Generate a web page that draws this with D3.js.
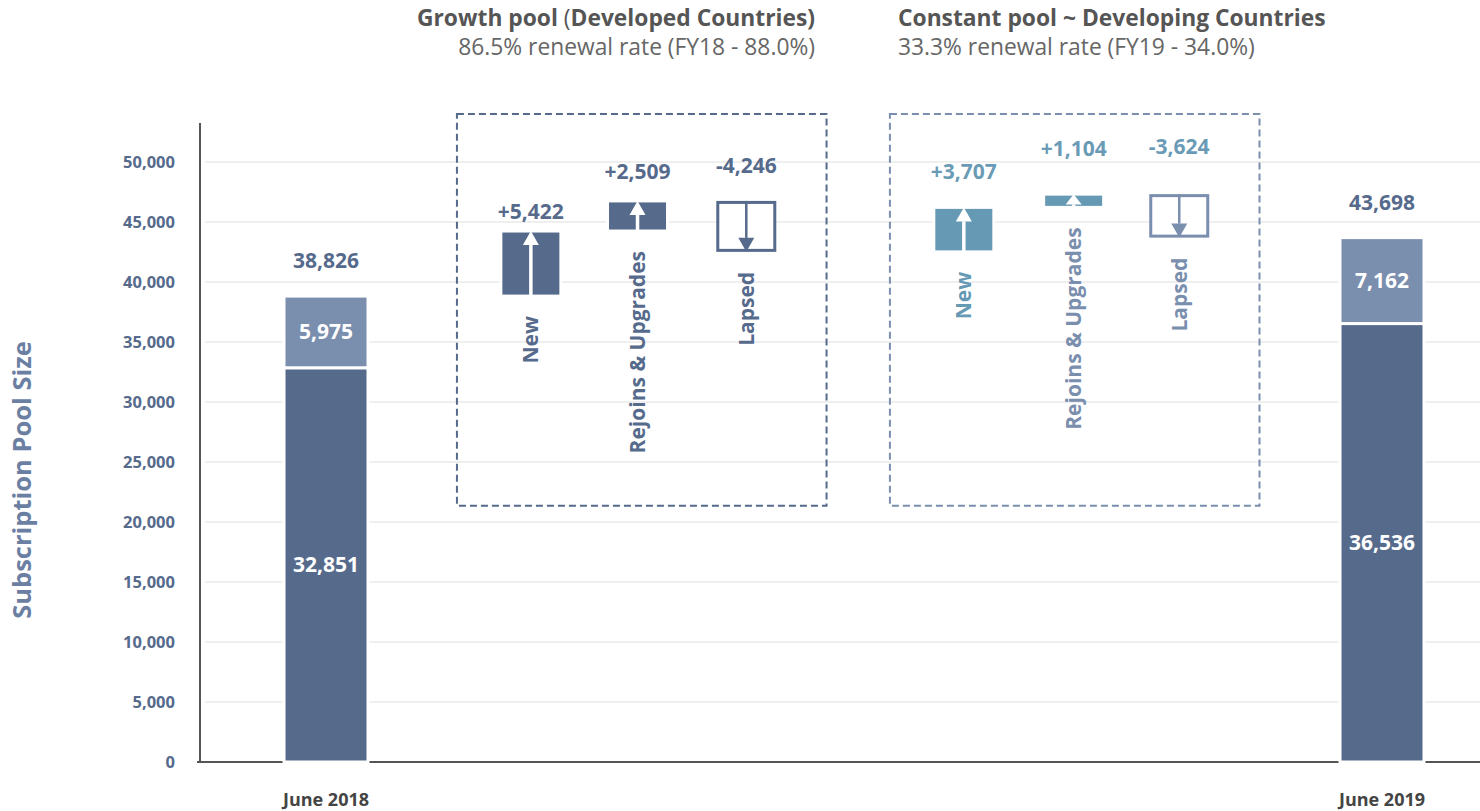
<!DOCTYPE html>
<html>
<head>
<meta charset="utf-8">
<script src="https://cdn.jsdelivr.net/npm/d3@7"></script>
<style>
  html, body { margin: 0; padding: 0; background: #ffffff; }
  svg { display: block; font-family: "Open Sans", "Noto Sans", sans-serif; }
</style>
</head>
<body>
<svg id="chart" width="1480" height="811"></svg>
<script>
// ---- data ----
const periods = ["June 2018", "June 2019"];
const baseSegment = [32851, 36536];   // lower stack of each period bar
const upperSegment = [5975, 7162];    // upper stack of each period bar

const flowCategories = ["New", "Rejoins & Upgrades", "Lapsed"];
const growthFlows = [5422, 2509, -4246];
const constantFlows = [3707, 1104, -3624];

const poolTitles = [
  [["Growth pool ", 700], ["(", 400], ["Developed Countries)", 700]],
  [["Constant pool ~ Developing Countries", 700]]
];
const poolSubtitles = [
  "86.5% renewal rate (FY18 - 88.0%)",
  "33.3% renewal rate (FY19 - 34.0%)"
];
const yTickValues = [0, 5000, 10000, 15000, 20000, 25000, 30000, 35000, 40000, 45000, 50000];
const yTitle = "Subscription Pool Size";

// ---- colours ----
const DARK = "#566a8c";
const LIGHT = "#7a8eae";
const TEAL = "#6699b4";
const poolStyle = [
  { up: DARK, down: DARK, value: DARK, label: [DARK, DARK, DARK], box: DARK },
  { up: TEAL, down: LIGHT, value: "#6a9bb6", label: [TEAL, LIGHT, LIGHT], box: LIGHT }
];

const svg = d3.select("#chart");

// ---- scales ----
const y = d3.scaleLinear().domain([0, 53250]).range([762, 123]);
// slot positions along the x axis: period bars at the ends, flows grouped per pool
const slotOf = { period: [0, 10], pool: [[1.94, 2.95, 3.98], [6.04, 7.08, 8.08]] };
const x = d3.scaleLinear().domain([0, 10]).range([326, 1382]);

const fmt = d3.format(",");
const signed = v => (v >= 0 ? "+" : "-") + fmt(Math.abs(v));

// ---- grid ----
svg.append("g")
  .selectAll("line")
  .data(yTickValues.filter(d => d > 0))
  .join("line")
  .attr("x1", 205).attr("x2", 1480)
  .attr("y1", d => y(d)).attr("y2", d => y(d))
  .attr("stroke", "#efefef").attr("stroke-width", 2);

// ---- y axis ----
const yAxis = d3.axisLeft(y).tickValues(yTickValues).tickFormat(fmt).tickSize(0).tickPadding(25);
const gy = svg.append("g").attr("transform", "translate(200,0)").call(yAxis);
gy.select(".domain").remove();
gy.selectAll("text")
  .attr("fill", DARK).attr("font-size", 16.5).attr("font-weight", 700)
  .attr("font-family", "Open Sans");

svg.append("line")
  .attr("x1", 200).attr("x2", 200).attr("y1", y(53250)).attr("y2", y(0))
  .attr("stroke", "#555").attr("stroke-width", 2);
svg.append("line")
  .attr("x1", 197).attr("x2", 1480).attr("y1", y(0)).attr("y2", y(0))
  .attr("stroke", "#555").attr("stroke-width", 2);

svg.append("text")
  .attr("transform", `translate(31,${480}) rotate(-90)`)
  .attr("text-anchor", "middle")
  .attr("fill", "#6b7fa3").attr("font-size", 25.5).attr("font-weight", 700)
  .text(yTitle);

// ---- period bars ----
const barW = 84;
periods.forEach((p, i) => {
  const cx = x(slotOf.period[i]);
  const base = baseSegment[i], upper = upperSegment[i], total = base + upper;
  const g = svg.append("g");
  g.append("rect")
    .attr("x", cx - barW / 2).attr("width", barW)
    .attr("y", y(base)).attr("height", y(0) - y(base))
    .attr("fill", DARK).attr("stroke", "#fff").attr("stroke-width", 3);
  g.append("rect")
    .attr("x", cx - barW / 2).attr("width", barW)
    .attr("y", y(total)).attr("height", y(base) - y(total))
    .attr("fill", LIGHT).attr("stroke", "#fff").attr("stroke-width", 3);
  g.append("text")
    .attr("x", cx).attr("y", (y(base) + y(0)) / 2).attr("dy", "0.35em")
    .attr("text-anchor", "middle").attr("fill", "#fff")
    .attr("font-size", 21).attr("font-weight", 700).text(fmt(base));
  g.append("text")
    .attr("x", cx).attr("y", (y(total) + y(base)) / 2).attr("dy", "0.35em")
    .attr("text-anchor", "middle").attr("fill", "#fff")
    .attr("font-size", 21).attr("font-weight", 700).text(fmt(upper));
  g.append("text")
    .attr("x", cx).attr("y", y(total) - 35).attr("dy", "0.35em")
    .attr("text-anchor", "middle").attr("fill", DARK)
    .attr("font-size", 21).attr("font-weight", 700).text(fmt(total));
  g.append("text")
    .attr("x", cx).attr("y", 806)
    .attr("text-anchor", "middle").attr("fill", "#444")
    .attr("font-size", 18).attr("font-weight", 700).text(p);
});

// ---- pool waterfalls ----
const flowW = 60;
const labelLift = [[12, 22, 28], [28, 38, 40]];
let running = baseSegment[0] + upperSegment[0];

[growthFlows, constantFlows].forEach((flows, pi) => {
  const st = poolStyle[pi];
  const slots = slotOf.pool[pi];
  const g = svg.append("g");

  // dashed frame around the pool
  const bx0 = x(slots[0] - 0.7), bx1 = x(slots[2] + 0.76);
  g.append("rect")
    .attr("x", bx0).attr("y", y(54000))
    .attr("width", bx1 - bx0).attr("height", y(21350) - y(54000))
    .attr("fill", "none").attr("stroke", st.box)
    .attr("stroke-width", 2).attr("stroke-dasharray", "7,4");

  flows.forEach((v, k) => {
    const start = running, end = running + v;
    running = end;
    const cx = x(slots[k]);
    const top = y(Math.max(start, end)), bottom = y(Math.min(start, end));
    const h = bottom - top;
    const headH = Math.min(14, h - 3), headW = 8;

    if (v >= 0) {
      g.append("rect")
        .attr("x", cx - flowW / 2).attr("width", flowW)
        .attr("y", top).attr("height", h)
        .attr("fill", st.up).attr("stroke", "#fff").attr("stroke-width", 3);
      g.append("line")
        .attr("x1", cx).attr("x2", cx).attr("y1", bottom).attr("y2", top + headH)
        .attr("stroke", "#fff").attr("stroke-width", 3.5);
      g.append("path")
        .attr("d", `M${cx - headW},${top + headH}L${cx + headW},${top + headH}L${cx},${top}Z`)
        .attr("fill", "#fff");
    } else {
      g.append("rect")
        .attr("x", cx - flowW / 2 + 1.5).attr("width", flowW - 3)
        .attr("y", top + 1.5).attr("height", h - 3)
        .attr("fill", "#fff").attr("stroke", st.down).attr("stroke-width", 3);
      g.append("line")
        .attr("x1", cx).attr("x2", cx).attr("y1", top).attr("y2", bottom - headH)
        .attr("stroke", st.down).attr("stroke-width", 2.5);
      g.append("path")
        .attr("d", `M${cx - headW},${bottom - headH}L${cx + headW},${bottom - headH}L${cx},${bottom}Z`)
        .attr("fill", st.down);
    }

    g.append("text")
      .attr("x", cx).attr("y", top - labelLift[pi][k])
      .attr("text-anchor", "middle").attr("fill", st.value)
      .attr("font-size", 21).attr("font-weight", 700).text(signed(v));

    g.append("text")
      .attr("transform", `translate(${cx},${bottom + 20}) rotate(-90)`)
      .attr("text-anchor", "end").attr("dy", "0.35em")
      .attr("fill", st.label[k]).attr("font-size", 21).attr("font-weight", 700)
      .text(flowCategories[k]);
  });
});

// ---- pool headings ----
const headAnchor = [{ x: 815, anchor: "end" }, { x: 898, anchor: "start" }];
poolTitles.forEach((parts, i) => {
  const t = svg.append("text")
    .attr("x", headAnchor[i].x).attr("y", 26)
    .attr("text-anchor", headAnchor[i].anchor)
    .attr("fill", "#555").attr("font-size", 22.8);
  parts.forEach(([s, w]) => t.append("tspan").attr("font-weight", w).text(s));
  svg.append("text")
    .attr("x", headAnchor[i].x).attr("y", 55)
    .attr("text-anchor", headAnchor[i].anchor)
    .attr("fill", "#666").attr("font-size", 22.8).text(poolSubtitles[i]);
});
</script>
</body>
</html>
